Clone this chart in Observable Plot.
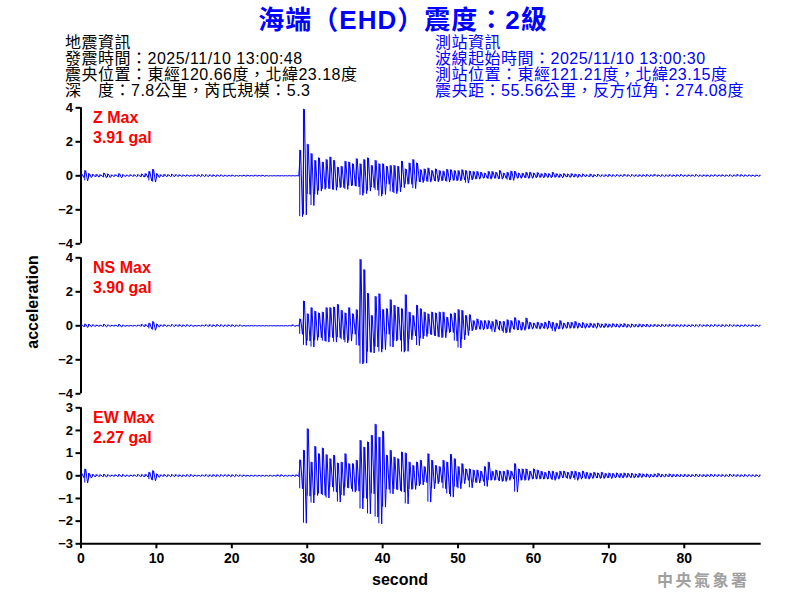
<!DOCTYPE html>
<html><head><meta charset="utf-8">
<script src="https://cdn.jsdelivr.net/npm/d3@7"></script>
<script src="https://cdn.jsdelivr.net/npm/@observablehq/plot@0.6"></script>
<style>
body{margin:0;background:#fff;}
#root{position:relative;width:800px;height:600px;overflow:hidden;font-family:'Liberation Sans','Noto Sans CJK TC',sans-serif;}
.abs{position:absolute;white-space:nowrap;}
#root svg{position:absolute;left:0;background:transparent;}
</style></head><body><div id="root"></div>
<script>
// ---- data: per 0.5 s bin, positive peak (hi) and negative peak (lo), gal ----
const binStep = 0.5;
const zHi = [
0.1,0.3,0.12,0.08,0.08,0.06,0.15,0.1,0.05,0.06,
0.12,0.06,0.04,0.06,0.05,0.06,0.1,0.12,0.25,0.37,
0.12,0.06,0.08,0.06,0.08,0.06,0.05,0.04,0.04,0.03,
0.05,0.05,0.06,0.05,0.05,0.05,0.04,0.04,0.03,0.02,
0.03,0.02,0.02,0.03,0.03,0.02,0.03,0.02,0.03,0.02,
0.01,0.01,0.01,0.01,0.01,0.01,0.01,0.01,1.5,3.91,
1.85,1.3,0.9,1.05,0.8,0.95,1.1,0.9,0.5,0.55,
0.85,0.8,0.7,1.0,0.7,0.95,1.05,0.6,0.9,0.7,
0.7,0.55,0.6,0.6,0.55,0.85,0.4,0.75,0.95,0.75,
0.35,0.4,0.45,0.3,0.4,0.3,0.27,0.37,0.35,0.3,
0.3,0.35,0.3,0.27,0.25,0.25,0.2,0.15,0.25,0.25,
0.2,0.3,0.15,0.2,0.27,0.25,0.15,0.15,0.2,0.2,
0.15,0.18,0.12,0.15,0.12,0.2,0.12,0.1,0.12,0.1,
0.12,0.1,0.08,0.1,0.06,0.1,0.06,0.08,0.05,0.06,
0.08,0.05,0.06,0.05,0.08,0.05,0.06,0.05,0.06,0.05,
0.06,0.05,0.08,0.04,0.05,0.04,0.06,0.04,0.05,0.06,
0.04,0.05,0.04,0.06,0.04,0.05,0.04,0.04,0.05,0.04,
0.05,0.04,0.05,0.04,0.08,0.06,0.04,0.04,0.04,0.04,0.03];
const zLo = [
-0.1,-0.3,-0.1,-0.06,-0.08,-0.05,-0.12,-0.1,-0.05,-0.04,
-0.12,-0.05,-0.04,-0.04,-0.05,-0.06,-0.08,-0.1,-0.3,-0.37,
-0.1,-0.06,-0.06,-0.05,-0.06,-0.04,-0.04,-0.03,-0.03,-0.03,
-0.04,-0.05,-0.05,-0.05,-0.04,-0.05,-0.03,-0.04,-0.03,-0.02,
-0.03,-0.02,-0.02,-0.03,-0.02,-0.02,-0.02,-0.02,-0.03,-0.02,
-0.01,-0.01,-0.01,-0.01,-0.01,-0.01,-0.01,-0.01,-2.4,-2.3,
-1.1,-1.75,-1.1,-0.9,-0.8,-0.75,-0.8,-0.85,-0.7,-0.7,
-0.8,-0.6,-0.6,-0.65,-1.15,-1.05,-0.9,-0.7,-0.85,-1.2,
-1.1,-0.5,-0.95,-1.05,-0.95,-0.7,-0.5,-0.5,-0.75,-0.35,
-0.4,-0.33,-0.37,-0.3,-0.35,-0.3,-0.3,-0.37,-0.27,-0.3,
-0.3,-0.25,-0.43,-0.25,-0.2,-0.2,-0.15,-0.15,-0.2,-0.15,
-0.18,-0.2,-0.15,-0.25,-0.27,-0.15,-0.15,-0.12,-0.15,-0.15,
-0.12,-0.1,-0.12,-0.1,-0.12,-0.1,-0.1,-0.12,-0.08,-0.1,
-0.08,-0.1,-0.08,-0.06,-0.06,-0.08,-0.05,-0.06,-0.05,-0.06,
-0.05,-0.05,-0.04,-0.05,-0.04,-0.05,-0.04,-0.05,-0.05,-0.04,
-0.05,-0.04,-0.04,-0.04,-0.05,-0.04,-0.04,-0.04,-0.04,-0.04,
-0.04,-0.03,-0.04,-0.04,-0.04,-0.03,-0.05,-0.03,-0.04,-0.03,
-0.04,-0.03,-0.04,-0.03,-0.04,-0.04,-0.03,-0.03,-0.04,-0.03,-0.03];
const nsHi = [
0.06,0.1,0.08,0.05,0.04,0.03,0.08,0.04,0.03,0.03,
0.08,0.03,0.02,0.02,0.02,0.03,0.08,0.07,0.15,0.24,
0.1,0.05,0.06,0.03,0.06,0.05,0.06,0.04,0.05,0.04,
0.02,0.02,0.03,0.05,0.06,0.05,0.06,0.05,0.04,0.05,
0.05,0.03,0.04,0.02,0.01,0.01,0.01,0.01,0.01,0.01,
0.01,0.01,0.01,0.01,0.01,0.01,0.05,0.02,0.4,1.45,
0.7,1.06,0.85,0.75,0.8,1.06,1.06,1.1,1.25,0.9,
0.75,1.06,0.7,0.94,3.9,3.3,1.9,0.6,1.72,1.88,
0.95,1.0,1.53,1.2,1.1,1.0,1.82,0.8,0.6,1.2,
1.0,0.8,0.7,0.8,0.75,0.8,0.8,0.5,0.7,0.75,
0.95,0.9,0.6,0.65,0.3,0.4,0.3,0.3,0.3,0.25,
0.35,0.25,0.25,0.35,0.3,0.47,0.3,0.2,0.45,0.2,
0.15,0.2,0.15,0.2,0.27,0.2,0.15,0.3,0.15,0.2,
0.2,0.25,0.15,0.18,0.12,0.15,0.12,0.15,0.1,0.12,
0.1,0.12,0.1,0.1,0.12,0.08,0.1,0.08,0.1,0.08,
0.08,0.06,0.08,0.06,0.07,0.06,0.08,0.06,0.06,0.05,
0.06,0.05,0.06,0.05,0.06,0.05,0.06,0.05,0.06,0.05,
0.06,0.05,0.06,0.05,0.05,0.04,0.05,0.04,0.05,0.04,0.03];
const nsLo = [
-0.05,-0.1,-0.06,-0.04,-0.03,-0.03,-0.07,-0.03,-0.02,-0.03,
-0.07,-0.03,-0.02,-0.02,-0.02,-0.02,-0.06,-0.06,-0.18,-0.26,
-0.08,-0.04,-0.04,-0.03,-0.05,-0.04,-0.05,-0.04,-0.04,-0.04,
-0.02,-0.02,-0.02,-0.04,-0.05,-0.05,-0.04,-0.05,-0.04,-0.04,
-0.05,-0.03,-0.03,-0.02,-0.01,-0.01,-0.01,-0.01,-0.01,-0.01,
-0.01,-0.01,-0.01,-0.01,-0.01,-0.01,-0.04,-0.02,-0.5,-1.15,
-0.9,-1.25,-0.86,-0.7,-0.9,-0.96,-0.7,-0.96,-0.7,-0.82,
-1.0,-0.9,-0.5,-1.16,-2.25,-2.2,-1.55,-1.6,-1.25,-1.55,
-1.4,-0.5,-1.25,-0.9,-0.85,-1.55,-1.5,-0.82,-0.6,-1.16,
-0.76,-0.63,-0.5,-0.57,-0.63,-0.7,-0.7,-0.4,-0.4,-0.9,
-1.3,-0.82,-0.57,-0.3,-0.25,-0.2,-0.25,-0.2,-0.2,-0.37,
-0.2,-0.3,-0.43,-0.4,-0.2,-0.25,-0.27,-0.27,-0.2,-0.2,
-0.15,-0.2,-0.15,-0.2,-0.15,-0.33,-0.2,-0.2,-0.15,-0.15,
-0.15,-0.15,-0.12,-0.15,-0.12,-0.1,-0.15,-0.1,-0.12,-0.1,
-0.1,-0.08,-0.1,-0.08,-0.1,-0.1,-0.08,-0.08,-0.08,-0.06,
-0.08,-0.06,-0.06,-0.06,-0.06,-0.05,-0.06,-0.05,-0.06,-0.05,
-0.06,-0.05,-0.05,-0.05,-0.05,-0.04,-0.05,-0.05,-0.04,-0.05,
-0.05,-0.04,-0.05,-0.04,-0.05,-0.04,-0.04,-0.04,-0.04,-0.04,-0.03];
const ewHi = [
0.1,0.29,0.1,0.06,0.05,0.04,0.06,0.04,0.03,0.04,
0.05,0.05,0.03,0.03,0.03,0.05,0.05,0.06,0.15,0.22,
0.08,0.04,0.05,0.04,0.05,0.05,0.04,0.03,0.04,0.05,
0.03,0.02,0.03,0.04,0.04,0.05,0.04,0.04,0.04,0.04,
0.04,0.04,0.03,0.03,0.02,0.02,0.02,0.02,0.02,0.02,
0.02,0.02,0.04,0.04,0.02,0.02,0.03,0.04,0.7,1.12,
2.07,0.6,1.29,0.97,1.22,0.93,0.75,0.9,0.56,0.6,
0.97,0.53,0.53,0.68,1.56,1.26,1.49,1.78,2.27,1.7,
1.96,0.9,1.12,0.82,0.75,1.04,1.0,0.6,0.45,0.6,
0.68,0.4,0.97,0.68,0.45,0.4,0.68,0.6,0.94,0.75,
0.4,0.53,0.3,0.3,0.25,0.25,0.2,0.4,0.6,0.2,
0.25,0.2,0.2,0.25,0.2,0.53,0.3,0.3,0.3,0.2,
0.3,0.25,0.2,0.15,0.2,0.2,0.15,0.2,0.2,0.15,
0.2,0.2,0.15,0.2,0.15,0.12,0.15,0.12,0.15,0.1,
0.12,0.1,0.12,0.1,0.12,0.1,0.1,0.08,0.1,0.08,
0.08,0.06,0.08,0.1,0.06,0.06,0.08,0.06,0.06,0.05,
0.06,0.05,0.05,0.06,0.05,0.05,0.05,0.06,0.05,0.05,
0.05,0.04,0.06,0.05,0.05,0.04,0.05,0.04,0.04,0.04,0.03];
const ewLo = [
-0.08,-0.32,-0.1,-0.05,-0.04,-0.04,-0.06,-0.03,-0.03,-0.03,
-0.05,-0.04,-0.03,-0.02,-0.03,-0.04,-0.05,-0.05,-0.17,-0.22,
-0.07,-0.03,-0.04,-0.04,-0.04,-0.04,-0.04,-0.03,-0.04,-0.04,
-0.02,-0.02,-0.02,-0.04,-0.04,-0.04,-0.04,-0.03,-0.03,-0.04,
-0.04,-0.03,-0.03,-0.02,-0.02,-0.02,-0.02,-0.02,-0.02,-0.02,
-0.02,-0.02,-0.03,-0.03,-0.02,-0.02,-0.03,-0.03,-0.57,-2.09,
-0.9,-1.2,-0.87,-0.8,-0.87,-0.98,-0.5,-0.72,-1.16,-0.87,
-0.53,-0.57,-0.72,-0.68,-1.46,-1.0,-1.68,-0.8,-1.82,-2.12,
-1.38,-0.6,-0.8,-0.6,-0.65,-0.72,-1.24,-0.6,-0.6,-0.45,
-0.4,-0.3,-1.16,-0.57,-0.35,-0.3,-0.57,-0.8,-0.94,-0.5,
-0.57,-0.35,-0.2,-0.53,-0.3,-0.32,-0.25,-0.47,-0.2,-0.2,
-0.2,-0.25,-0.25,-0.2,-0.15,-0.72,-0.2,-0.2,-0.2,-0.15,
-0.15,-0.15,-0.15,-0.15,-0.15,-0.2,-0.15,-0.1,-0.1,-0.15,
-0.1,-0.2,-0.15,-0.12,-0.15,-0.12,-0.1,-0.12,-0.12,-0.1,
-0.12,-0.1,-0.08,-0.1,-0.08,-0.08,-0.1,-0.08,-0.08,-0.06,
-0.08,-0.06,-0.06,-0.06,-0.06,-0.05,-0.06,-0.05,-0.05,-0.05,
-0.05,-0.05,-0.04,-0.05,-0.04,-0.05,-0.04,-0.04,-0.04,-0.04,
-0.04,-0.04,-0.04,-0.04,-0.04,-0.04,-0.04,-0.03,-0.04,-0.04,-0.04];

const xTicks = [0,10,20,30,40,50,60,70,80];
const zTicks = [-4,-2,0,2,4];
const nsTicks = [-4,-2,0,2,4];
const ewTicks = [-3,-2,-1,0,1,2,3];

const title = "海端（EHD）震度：2級";
const leftInfo = ["地震資訊","發震時間：2025/11/10 13:00:48","震央位置：東經120.66度，北緯23.18度","深　度：7.8公里，芮氏規模：5.3"];
const rightInfo = ["測站資訊","波線起始時間：2025/11/10 13:00:30","測站位置：東經121.21度，北緯23.15度","震央距：55.56公里，反方位角：274.08度"];
const panelLabels = [["Z Max","3.91 gal"],["NS Max","3.90 gal"],["EW Max","2.27 gal"]];

// ---- build ----
const root = document.getElementById("root");
function trace(hi, lo) {
  const pts = [];
  hi.forEach((h, i) => {
    const t0 = i * binStep;
    pts.push({t: t0 + binStep * 0.25, v: h});
    pts.push({t: t0 + binStep * 0.75, v: lo[i]});
  });
  return pts;
}
function bars(hi, lo) {
  return hi.map((h, i) => ({t: i * binStep, hi: h, lo: lo[i]}));
}
const XDOM = [0, 90.2];
function panel(hi, lo, ticks, top, height, mb, withX) {
  const yd = [ticks[0], ticks[ticks.length - 1]];
  const marks = [
    Plot.axisY(ticks, {tickSize: 5, tickPadding: 3, strokeWidth: 2, fontSize: 13, fontWeight: "bold", label: null}),
    Plot.ruleX([0], {y1: yd[0], y2: yd[1], stroke: "black", strokeWidth: 2}),
    Plot.ruleX(bars(hi, lo), {x: "t", y1: "lo", y2: "hi", stroke: "#0000ff", strokeWidth: 1, clip: true}),
    Plot.line(trace(hi, lo), {x: "t", y: "v", stroke: "#0000ff", strokeWidth: 1, clip: true})
  ];
  if (withX) {
    marks.push(Plot.ruleY([yd[0]], {stroke: "black", strokeWidth: 2}));
    marks.push(Plot.axisX(xTicks, {tickSize: 5, tickPadding: 4, strokeWidth: 2, fontSize: 14, fontWeight: "bold", label: null}));
  }
  const svg = Plot.plot({
    width: 800, height, marginLeft: 80.5, marginRight: 39.3, marginTop: 7.3, marginBottom: mb,
    style: {fontFamily: "'Liberation Sans', Arial, sans-serif", color: "black", background: "transparent", overflow: "visible"},
    x: {domain: XDOM, axis: withX ? undefined : null},
    y: {domain: yd, label: null},
    marks
  });
  svg.style.top = top + "px";
  root.appendChild(svg);
}
panel(zHi, zLo, zTicks, 100, 150, 6.7, false);
panel(nsHi, nsLo, nsTicks, 250, 150, 6.7, false);
panel(ewHi, ewLo, ewTicks, 400, 190, 46.7, true);

function addText(txt, css) {
  const d = document.createElement("div");
  d.className = "abs";
  d.textContent = txt;
  Object.assign(d.style, css);
  root.appendChild(d);
  return d;
}
addText(title, {left: "3px", top: "5px", width: "800px", textAlign: "center", fontSize: "26px", letterSpacing: "1px", fontWeight: "bold", color: "#0000ff", lineHeight: "30px"});
leftInfo.forEach((s, i) => addText(s, {left: "65px", top: (35 + i * 16) + "px", fontSize: "16px", letterSpacing: "0.5px", lineHeight: "16px", color: "#000"}));
rightInfo.forEach((s, i) => addText(s, {left: "435px", top: (35 + i * 16) + "px", fontSize: "16px", letterSpacing: "0.5px", lineHeight: "16px", color: "#0000ff"}));
const labelTops = [118.3, 268.3, 418.3];
panelLabels.forEach((p, k) => {
  addText(p[0], {left: "93px", top: (labelTops[k] - 10) + "px", fontSize: "16px", lineHeight: "20px", fontWeight: "bold", color: "#ff0000"});
  addText(p[1], {left: "93px", top: (labelTops[k] + 9.4) + "px", fontSize: "16px", lineHeight: "20px", fontWeight: "bold", color: "#ff0000"});
});
addText("acceleration", {left: "33px", top: "302px", fontSize: "16px", fontWeight: "bold", lineHeight: "20px", transform: "translate(-50%,-50%) rotate(-90deg)", color: "#000"});
addText("second", {left: "400px", top: "580px", fontSize: "16px", fontWeight: "bold", lineHeight: "20px", transform: "translate(-50%,-50%)", color: "#000"});
addText("中央氣象署", {left: "657px", top: "571px", fontSize: "16px", fontWeight: "bold", lineHeight: "20px", letterSpacing: "2.5px", color: "#a0a0a0"});
</script></body></html>
